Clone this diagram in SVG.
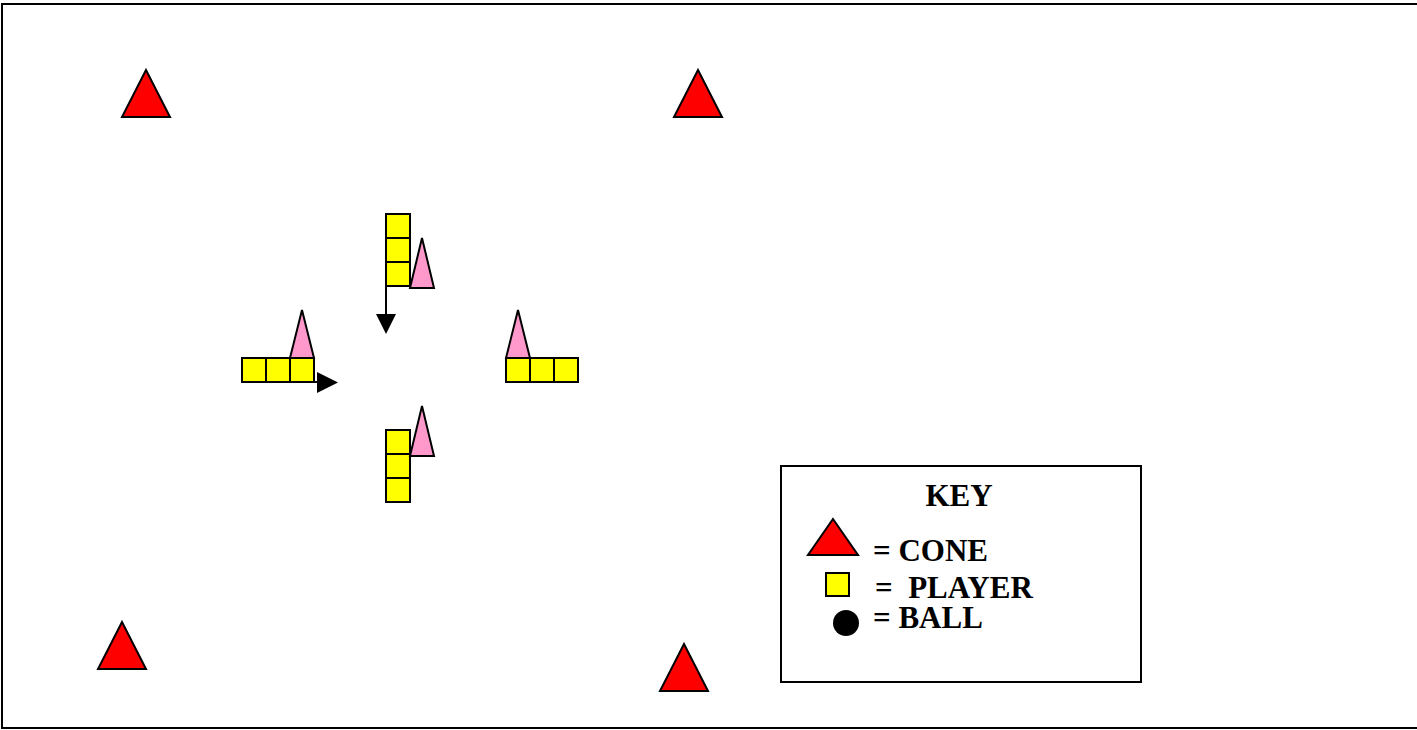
<svg xmlns="http://www.w3.org/2000/svg" width="1417" height="730" viewBox="0 0 1417 730">
  <style>
    .cone { fill: #ff0000; stroke: #000; stroke-width: 2; stroke-linejoin: miter; }
    .player { fill: #ffff00; stroke: #000; stroke-width: 2; }
    .flag { fill: #ff99cc; stroke: #000; stroke-width: 2; }
    .run { stroke: #000; stroke-width: 2; fill: none; }
    .head { fill: #000; }
    .key-text { font-family: "Liberation Serif", "Times New Roman", serif; font-weight: bold; font-size: 31px; fill: #000; }
  </style>
  <defs>
    <polygon id="coneShape" points="0,-47 24,0 -24,0" class="cone"/>
    <rect id="playerShape" width="24" height="24" class="player"/>
  </defs>

  <rect width="1417" height="730" fill="#fff"/>
  <!-- field boundary -->
  <rect x="2" y="4" width="1420" height="724" fill="none" stroke="#000" stroke-width="2"/>

  <!-- corner cones -->
  <g id="cone-top-left"><use href="#coneShape" x="146" y="117"/></g>
  <g id="cone-top-right"><use href="#coneShape" x="698" y="117"/></g>
  <g id="cone-bottom-left"><use href="#coneShape" x="122" y="669"/></g>
  <g id="cone-bottom-right"><use href="#coneShape" x="684" y="691"/></g>

  <!-- north line of players -->
  <g id="group-north">
    <use href="#playerShape" x="386" y="214"/>
    <use href="#playerShape" x="386" y="238"/>
    <use href="#playerShape" x="386" y="262"/>
    <polygon class="flag" points="422,238 434,288 410,288"/>
  </g>

  <!-- west line of players -->
  <g id="group-west">
    <use href="#playerShape" x="242" y="358"/>
    <use href="#playerShape" x="266" y="358"/>
    <use href="#playerShape" x="290" y="358"/>
    <polygon class="flag" points="302,310 314,358 290,358"/>
  </g>

  <!-- east line of players -->
  <g id="group-east">
    <use href="#playerShape" x="506" y="358"/>
    <use href="#playerShape" x="530" y="358"/>
    <use href="#playerShape" x="554" y="358"/>
    <polygon class="flag" points="518,310 530,358 506,358"/>
  </g>

  <!-- south line of players -->
  <g id="group-south">
    <use href="#playerShape" x="386" y="430"/>
    <use href="#playerShape" x="386" y="454"/>
    <use href="#playerShape" x="386" y="478"/>
    <polygon class="flag" points="422,406 434,456 410,456"/>
  </g>

  <!-- runs -->
  <g id="connectors">
    <line class="run" x1="386" y1="286" x2="386" y2="316"/>
    <polygon class="head" points="376,314 396,314 386,334"/>
    <line class="run" x1="314" y1="382" x2="319" y2="382"/>
    <polygon class="head" points="317,372 317,393 338,382.5"/>
  </g>

  <!-- legend -->
  <g id="key">
    <rect x="781" y="466" width="360" height="216" fill="#fff" stroke="#000" stroke-width="2"/>
    <text class="key-text" x="959" y="506" text-anchor="middle">KEY</text>
    <polygon class="cone" points="833,519 858,555 808,555"/>
    <text class="key-text" x="873" y="561">= CONE</text>
    <rect class="player" x="826" y="573" width="23" height="23"/>
    <text class="key-text" x="875" y="598" xml:space="preserve">=  PLAYER</text>
    <circle cx="846" cy="623" r="13" fill="#000"/>
    <text class="key-text" x="873" y="628">= BALL</text>
  </g>
</svg>
